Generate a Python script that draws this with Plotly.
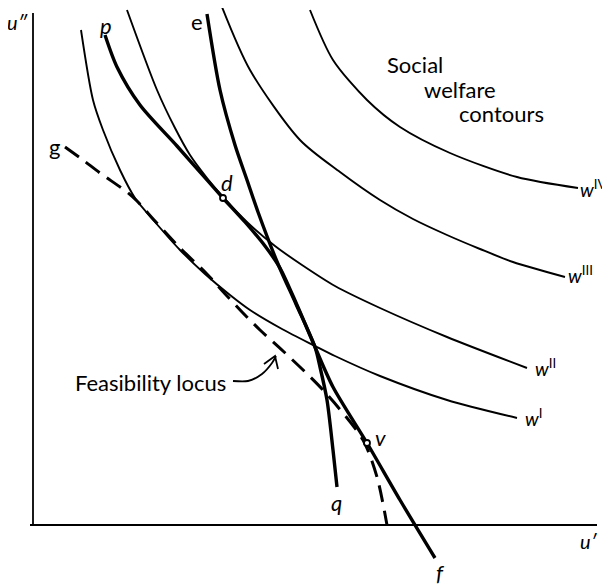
import plotly.graph_objects as go

# ---- data (u', u'' units; origin at the axes' corner) ----
w1_x = [48, 60, 70, 87, 102, 122, 147, 172, 197, 217, 249, 282, 302, 347, 414, 484]
w1_y = [495, 425, 395, 355, 327, 303, 275, 251, 230, 215, 196, 179, 169, 149, 125, 107]

w2_x = [94, 124, 142, 157, 174, 190, 215, 242, 269, 302, 347, 414, 494]
w2_y = [515, 435, 397, 370, 347, 328, 302, 279, 260, 239, 217, 188, 157]

w3_x = [189, 217, 267, 307, 347, 380, 414, 447, 480, 532]
w3_y = [518, 455, 385, 353, 325, 306, 290, 276, 263, 248]

w4_x = [277, 300, 334, 367, 417, 484, 545]
w4_y = [515, 465, 425, 398, 372, 348, 337]

pf_x = [72, 84, 107, 144, 174, 190, 212, 232, 247, 264, 282, 300, 334, 367, 402]
pf_y = [490, 458, 420, 379, 345, 327, 303, 279, 257, 220, 178, 138, 82, 25, -33]

eq_x = [174, 187, 202, 214, 225, 245, 263, 282, 287, 294, 300, 304]
eq_y = [511, 435, 380, 345, 313, 261, 221, 178, 158, 125, 75, 38]

feas_x = [32, 50, 67, 94, 104, 122, 147, 172, 195, 210, 227, 250, 290, 330, 344, 354]
feas_y = [378, 365, 352, 333, 324, 304, 277, 253, 228, 212, 195, 174, 135, 85, 48, 0]

pts_x = [190, 334]   # d, v
pts_y = [327, 82]

arrow_x = [200, 215, 229, 239, 243]
arrow_y = [144, 144, 151, 162, 169]
head_x = [231, 242, 245]
head_y = [161, 169, 156]

axis_v_x = [0, 0]
axis_v_y = [0, 512]
axis_h_x = [-3, 564]
axis_h_y = [0, 0]

FONT = "Lato"
fig = go.Figure()

def line(x, y, width, dash=None, shape="spline", smoothing=0.8):
    fig.add_trace(go.Scatter(
        x=x, y=y, mode="lines",
        line=dict(color="black", width=width, dash=dash, shape=shape, smoothing=smoothing),
        hoverinfo="skip"))

# axes
line(axis_v_x, axis_v_y, 1.8, shape="linear")
line(axis_h_x, axis_h_y, 1.8, shape="linear")

# welfare contours
for xs, ys in [(w1_x, w1_y), (w2_x, w2_y), (w3_x, w3_y), (w4_x, w4_y)]:
    line(xs, ys, 1.9)

# feasibility locus (dashed)
line(feas_x, feas_y, 3, dash="17px,9px")

# utility possibility curves
line(pf_x, pf_y, 3.4)
line(eq_x, eq_y, 3.4)

# arrow
line(arrow_x, arrow_y, 1.8)
line(head_x, head_y, 1.8, shape="linear")

# points d, v
fig.add_trace(go.Scatter(x=pts_x, y=pts_y, mode="markers",
                         marker=dict(symbol="circle", size=6, color="white",
                                     line=dict(color="black", width=1.8)),
                         hoverinfo="skip"))

def label(x, y, text, size=22, xanchor="center"):
    fig.add_annotation(x=x, y=y, text=text, showarrow=False, xanchor=xanchor,
                       yanchor="middle", font=dict(family=FONT, size=size, color="black"))

label(-15, 503, "<i>u″</i>", 20)
label(556, -16, "<i>u′</i>", 20)
label(73, 500, "<i>p</i>")
label(164, 504, "e")
label(21, 379, "g")
label(194, 343, "<i>d</i>")
label(347, 88, "<i>v</i>")
label(303, 23, "<i>q</i>")
label(407, -47, "<i>f</i>")
label(545, 337, "<i>w</i><sup>IV</sup>", 19, xanchor="left")
label(533, 251, "<i>w</i><sup>III</sup>", 19, xanchor="left")
label(500, 158, "<i>w</i><sup>II</sup>", 19, xanchor="left")
label(490, 108, "<i>w</i><sup>I</sup>", 19, xanchor="left")
label(352, 461, "Social", 22, xanchor="left")
label(389, 436, "welfare", 22, xanchor="left")
label(424, 412, "contours", 22, xanchor="left")
label(40, 143, "Feasibility locus", 22, xanchor="left")

# the page body has an 8px margin, so the figure is 8px smaller and its ranges start 8 units in
fig.update_layout(
    width=602, height=579,
    margin=dict(l=0, r=0, t=0, b=0),
    paper_bgcolor="white", plot_bgcolor="white",
    showlegend=False,
    xaxis=dict(range=[-25, 577], visible=False, fixedrange=True),
    yaxis=dict(range=[-62, 517], visible=False, fixedrange=True),
)

fig.write_html("out.html")
